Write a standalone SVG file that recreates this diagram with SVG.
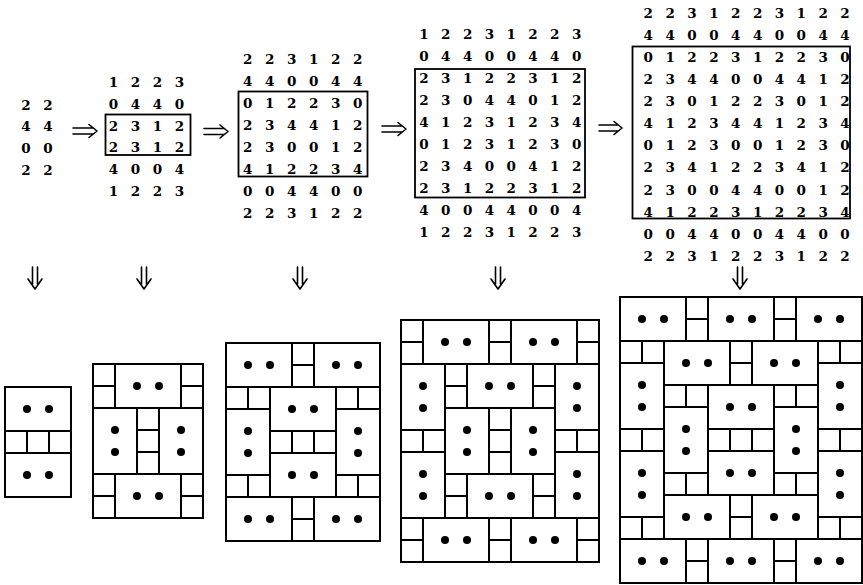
<svg xmlns="http://www.w3.org/2000/svg" width="863" height="585" viewBox="0 0 863 585">
<style>
.d{font-family:"DejaVu Serif","Liberation Serif",serif;font-weight:bold;font-size:13.5px;text-anchor:middle;fill:#000}
.t{fill:#fff;stroke:#000;stroke-width:2}
.bx{fill:none;stroke:#000;stroke-width:1.8}
.ar{fill:none;stroke:#000;stroke-width:1.6;stroke-linecap:round;stroke-linejoin:round}
</style>
<defs>
<rect id="S" width="22" height="22" class="t"/>
<g id="H"><rect width="66" height="44" class="t"/><circle cx="22" cy="22" r="4"/><circle cx="44" cy="22" r="4"/></g>
<g id="V"><rect width="44" height="66" class="t"/><circle cx="22" cy="22" r="4"/><circle cx="22" cy="44" r="4"/></g>
</defs>
<rect width="863" height="585" fill="#fff"/>

<g id="grid1" class="d">
<text x="26 48" y="109.5">22</text>
<text x="26 48" y="131.2">44</text>
<text x="26 48" y="152.9">00</text>
<text x="26 48" y="174.6">22</text>
</g>

<g id="grid2">
<g class="d">
<text x="113.5 135.5 157.5 179.5" y="86.7">1223</text>
<text x="113.5 135.5 157.5 179.5" y="108.7">0440</text>
<text x="113.5 135.5 157.5 179.5" y="130.5">2312</text>
<text x="113.5 135.5 157.5 179.5" y="152.3">2312</text>
<text x="113.5 135.5 157.5 179.5" y="174.3">4004</text>
<text x="113.5 135.5 157.5 179.5" y="196.2">1223</text>
</g>
<rect class="bx" x="105.5" y="114.5" width="85" height="40.5"/>
</g>

<g id="grid3">
<g class="d">
<text x="247.7 269.7 291.7 313.7 335.7 357.7" y="64.3">223122</text>
<text x="247.7 269.7 291.7 313.7 335.7 357.7" y="86.2">440044</text>
<text x="247.7 269.7 291.7 313.7 335.7 357.7" y="108.1">012230</text>
<text x="247.7 269.7 291.7 313.7 335.7 357.7" y="130">234412</text>
<text x="247.7 269.7 291.7 313.7 335.7 357.7" y="151.9">230012</text>
<text x="247.7 269.7 291.7 313.7 335.7 357.7" y="173.8">412234</text>
<text x="247.7 269.7 291.7 313.7 335.7 357.7" y="195.7">004400</text>
<text x="247.7 269.7 291.7 313.7 335.7 357.7" y="217.6">223122</text>
</g>
<rect class="bx" x="238.5" y="91.5" width="129" height="85"/>
</g>

<g id="grid4">
<g class="d">
<text x="424 445.8 467.6 489.4 511.2 533 554.8 576.6" y="39.3">12231223</text>
<text x="424 445.8 467.6 489.4 511.2 533 554.8 576.6" y="61.3">04400440</text>
<text x="424 445.8 467.6 489.4 511.2 533 554.8 576.6" y="83.3">23122312</text>
<text x="424 445.8 467.6 489.4 511.2 533 554.8 576.6" y="105.3">23044012</text>
<text x="424 445.8 467.6 489.4 511.2 533 554.8 576.6" y="127.3">41231234</text>
<text x="424 445.8 467.6 489.4 511.2 533 554.8 576.6" y="149.3">01231230</text>
<text x="424 445.8 467.6 489.4 511.2 533 554.8 576.6" y="171.3">23400412</text>
<text x="424 445.8 467.6 489.4 511.2 533 554.8 576.6" y="193.3">23122312</text>
<text x="424 445.8 467.6 489.4 511.2 533 554.8 576.6" y="215.3">40044004</text>
<text x="424 445.8 467.6 489.4 511.2 533 554.8 576.6" y="237.3">12231223</text>
</g>
<rect class="bx" x="415" y="69" width="170" height="128.5"/>
</g>

<g id="grid5">
<g class="d">
<text x="648.3 670.2 692 713.9 735.7 757.6 779.5 801.3 823.2 845" y="17.7">2231223122</text>
<text x="648.3 670.2 692 713.9 735.7 757.6 779.5 801.3 823.2 845" y="39.8">4400440044</text>
<text x="648.3 670.2 692 713.9 735.7 757.6 779.5 801.3 823.2 845" y="61.9">0122312230</text>
<text x="648.3 670.2 692 713.9 735.7 757.6 779.5 801.3 823.2 845" y="84">2344004412</text>
<text x="648.3 670.2 692 713.9 735.7 757.6 779.5 801.3 823.2 845" y="106.1">2301223012</text>
<text x="648.3 670.2 692 713.9 735.7 757.6 779.5 801.3 823.2 845" y="128.2">4123441234</text>
<text x="648.3 670.2 692 713.9 735.7 757.6 779.5 801.3 823.2 845" y="150.3">0123001230</text>
<text x="648.3 670.2 692 713.9 735.7 757.6 779.5 801.3 823.2 845" y="172.4">2341223412</text>
<text x="648.3 670.2 692 713.9 735.7 757.6 779.5 801.3 823.2 845" y="194.5">2300440012</text>
<text x="648.3 670.2 692 713.9 735.7 757.6 779.5 801.3 823.2 845" y="216.6">4122312234</text>
<text x="648.3 670.2 692 713.9 735.7 757.6 779.5 801.3 823.2 845" y="238.7">0044004400</text>
<text x="648.3 670.2 692 713.9 735.7 757.6 779.5 801.3 823.2 845" y="260.8">2231223122</text>
</g>
<rect class="bx" x="632.5" y="46.5" width="217.5" height="172"/>
</g>

<g id="connectors" class="ar">
<path d="M73 128H93M73 134H93M89 124.5L97 131L89 137.5"/>
<path d="M204 128.5H224M204 134.5H224M220 125L228 131.5L220 138"/>
<path d="M382 126H402M382 132H402M398 122.5L406 129L398 135.5"/>
<path d="M599 125H618M599 131H618M614 121.5L622 128L614 134.5"/>
<path d="M32.5 267V284M37.5 267V284M28 279L35 289L42 279"/>
<path d="M141.5 267V284M146.5 267V284M137 279L144 289L151 279"/>
<path d="M297.5 267V284M302.5 267V284M293 279L300 289L307 279"/>
<path d="M495.5 267V284M500.5 267V284M491 279L498 289L505 279"/>
<path d="M737.5 267V284M742.5 267V284M733 279L740 289L747 279"/>
</g>

<g id="tiling1" transform="translate(5,387)">
<use href="#H" x="0" y="0"/>
<use href="#S" x="0" y="44"/><use href="#S" x="22" y="44"/><use href="#S" x="44" y="44"/>
<use href="#H" x="0" y="66"/>
</g>

<g id="tiling2" transform="translate(93,364)">
<use href="#S" x="0" y="0"/><use href="#S" x="0" y="22"/><use href="#H" x="22" y="0"/><use href="#S" x="88" y="0"/><use href="#S" x="88" y="22"/>
<use href="#V" x="0" y="44"/><use href="#S" x="44" y="44"/><use href="#S" x="44" y="66"/><use href="#S" x="44" y="88"/><use href="#V" x="66" y="44"/>
<use href="#S" x="0" y="110"/><use href="#S" x="0" y="132"/><use href="#H" x="22" y="110"/><use href="#S" x="88" y="110"/><use href="#S" x="88" y="132"/>
</g>

<g id="tiling3" transform="translate(226,343)">
<use href="#H" x="0" y="0"/><use href="#S" x="66" y="0"/><use href="#S" x="66" y="22"/><use href="#H" x="88" y="0"/>
<use href="#S" x="0" y="44"/><use href="#S" x="22" y="44"/><use href="#H" x="44" y="44"/><use href="#S" x="110" y="44"/><use href="#S" x="132" y="44"/>
<use href="#V" x="0" y="66"/><use href="#S" x="44" y="88"/><use href="#S" x="66" y="88"/><use href="#S" x="88" y="88"/><use href="#V" x="110" y="66"/>
<use href="#H" x="44" y="110"/>
<use href="#S" x="0" y="132"/><use href="#S" x="22" y="132"/><use href="#S" x="110" y="132"/><use href="#S" x="132" y="132"/>
<use href="#H" x="0" y="154"/><use href="#S" x="66" y="154"/><use href="#S" x="66" y="176"/><use href="#H" x="88" y="154"/>
</g>

<g id="tiling4" transform="translate(401,320)">
<use href="#S" x="0" y="0"/><use href="#S" x="0" y="22"/><use href="#H" x="22" y="0"/><use href="#S" x="88" y="0"/><use href="#S" x="88" y="22"/><use href="#H" x="110" y="0"/><use href="#S" x="176" y="0"/><use href="#S" x="176" y="22"/>
<use href="#V" x="0" y="44"/><use href="#S" x="44" y="44"/><use href="#S" x="44" y="66"/><use href="#H" x="66" y="44"/><use href="#S" x="132" y="44"/><use href="#S" x="132" y="66"/><use href="#V" x="154" y="44"/>
<use href="#V" x="44" y="88"/><use href="#S" x="88" y="88"/><use href="#S" x="88" y="110"/><use href="#S" x="88" y="132"/><use href="#V" x="110" y="88"/>
<use href="#S" x="0" y="110"/><use href="#S" x="22" y="110"/><use href="#S" x="154" y="110"/><use href="#S" x="176" y="110"/>
<use href="#V" x="0" y="132"/><use href="#V" x="154" y="132"/>
<use href="#S" x="44" y="154"/><use href="#S" x="44" y="176"/><use href="#H" x="66" y="154"/><use href="#S" x="132" y="154"/><use href="#S" x="132" y="176"/>
<use href="#S" x="0" y="198"/><use href="#S" x="0" y="220"/><use href="#H" x="22" y="198"/><use href="#S" x="88" y="198"/><use href="#S" x="88" y="220"/><use href="#H" x="110" y="198"/><use href="#S" x="176" y="198"/><use href="#S" x="176" y="220"/>
</g>

<g id="tiling5" transform="translate(620,297)">
<use href="#H" x="0" y="0"/><use href="#S" x="66" y="0"/><use href="#S" x="66" y="22"/><use href="#H" x="88" y="0"/><use href="#S" x="154" y="0"/><use href="#S" x="154" y="22"/><use href="#H" x="176" y="0"/>
<use href="#S" x="0" y="44"/><use href="#S" x="22" y="44"/><use href="#H" x="44" y="44"/><use href="#S" x="110" y="44"/><use href="#S" x="110" y="66"/><use href="#H" x="132" y="44"/><use href="#S" x="198" y="44"/><use href="#S" x="220" y="44"/>
<use href="#V" x="0" y="66"/><use href="#V" x="198" y="66"/>
<use href="#S" x="44" y="88"/><use href="#S" x="66" y="88"/><use href="#H" x="88" y="88"/><use href="#S" x="154" y="88"/><use href="#S" x="176" y="88"/>
<use href="#V" x="44" y="110"/><use href="#V" x="154" y="110"/>
<use href="#S" x="0" y="132"/><use href="#S" x="22" y="132"/><use href="#S" x="88" y="132"/><use href="#S" x="110" y="132"/><use href="#S" x="132" y="132"/><use href="#S" x="198" y="132"/><use href="#S" x="220" y="132"/>
<use href="#V" x="0" y="154"/><use href="#H" x="88" y="154"/><use href="#V" x="198" y="154"/>
<use href="#S" x="44" y="176"/><use href="#S" x="66" y="176"/><use href="#S" x="154" y="176"/><use href="#S" x="176" y="176"/>
<use href="#H" x="44" y="198"/><use href="#S" x="110" y="198"/><use href="#S" x="110" y="220"/><use href="#H" x="132" y="198"/>
<use href="#S" x="0" y="220"/><use href="#S" x="22" y="220"/><use href="#S" x="198" y="220"/><use href="#S" x="220" y="220"/>
<use href="#H" x="0" y="242"/><use href="#S" x="66" y="242"/><use href="#S" x="66" y="264"/><use href="#H" x="88" y="242"/><use href="#S" x="154" y="242"/><use href="#S" x="154" y="264"/><use href="#H" x="176" y="242"/>
</g>
</svg>
